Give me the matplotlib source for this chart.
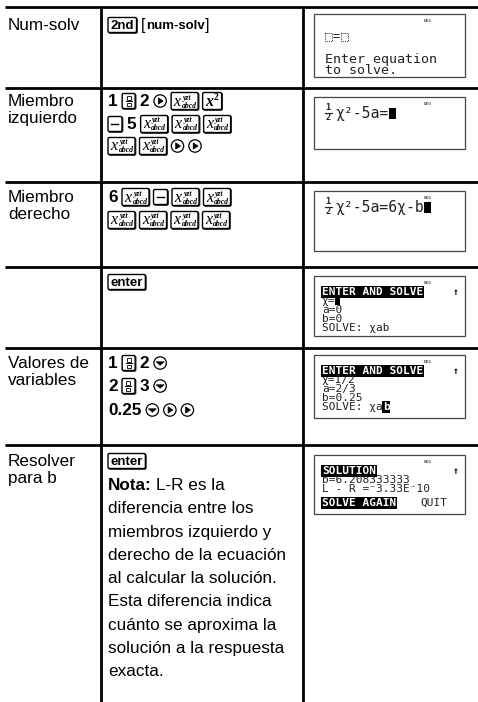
import matplotlib.pyplot as plt
from matplotlib.patches import Rectangle, FancyBboxPatch, Circle, Polygon

W, H = 478, 702
SANS = 'Liberation Sans'
SERIF = 'Liberation Serif'
MONO = 'DejaVu Sans Mono'
FS = 12.3

# ---- table content ----
row_labels = [['Num-solv'], ['Miembro', 'izquierdo'], ['Miembro', 'derecho'], [],
              ['Valores de', 'variables'], ['Resolver', 'para b']]
row_tops = [7, 88, 182, 267, 348, 445]

# key sequences, one list per printed line
key_lines = [
    [[('key', '2nd'), ('brk', 'num-solv')]],
    [[('n', '1'), ('frac',), ('n', '2'), ('right',), ('var',), ('sq',)],
     [('minus',), ('n', '5'), ('var',), ('var',), ('var',)],
     [('var',), ('var',), ('right',), ('right',)]],
    [[('n', '6'), ('var',), ('minus',), ('var',), ('var',)],
     [('var',), ('var',), ('var',), ('var',)]],
    [[('key', 'enter')]],
    [[('n', '1'), ('frac',), ('n', '2'), ('down',)],
     [('n', '2'), ('frac',), ('n', '3'), ('down',)],
     [('n', '0.25'), ('down',), ('right',), ('right',)]],
    [[('key', 'enter')]],
]
key_line_y = [[25], [101, 124, 146], [197, 220], [282], [363, 386, 410], [461]]
label_base = [[30], [106, 123], [202, 219], [], [368, 385], [466, 483]]

nota_head = 'Nota:'
nota_lines = ['L-R es la', 'diferencia entre los', 'miembros izquierdo y',
              'derecho de la ecuación', 'al calcular la solución.',
              'Esta diferencia indica', 'cuánto se aproxima la',
              'solución a la respuesta', 'exacta.']

# calculator screens
screen_rows = [(14, 77), (97, 149), (191, 251), (276, 336), (355, 418), (455, 514)]
scr1_lines = ['Enter equation', 'to solve.']
scr2_expr = 'χ²-5a='
scr3_expr = 'χ²-5a=6χ-b'
scr4_lines = ['ENTER AND SOLVE', 'χ=', 'a=0', 'b=0', 'SOLVE: χab']
scr5_lines = ['ENTER AND SOLVE', 'χ=1/2', 'a=2/3', 'b=0.25', 'SOLVE: χa']
scr6_lines = ['SOLUTION', 'b=6.208333333', 'L - R =⁻3.33E⁻10']
scr6_menu = ['SOLVE AGAIN', 'QUIT']

fig = plt.figure(figsize=(W / 100, H / 100), dpi=100)
ax = fig.add_axes([0, 0, 1, 1])
ax.set_xlim(0, W)
ax.set_ylim(H, 0)
ax.axis('off')
renderer = fig.canvas.get_renderer()


def width(t):
    return t.get_window_extent(renderer).width


def key_box(x, yc, w, h):
    # small shadow on the right/bottom like the printed key caps
    ax.add_patch(FancyBboxPatch((x + 0.7, yc - h / 2 + 0.7), w, h,
                                boxstyle='round,pad=0,rounding_size=1.5',
                                lw=1.0, ec='#333333', fc='#333333'))
    ax.add_patch(FancyBboxPatch((x, yc - h / 2), w, h,
                                boxstyle='round,pad=0,rounding_size=1.5',
                                lw=1.0, ec='black', fc='white'))


def draw_token(tok, x, yc):
    kind = tok[0]
    if kind == 'n':
        t = ax.text(x, yc + 5, tok[1], family=SANS, weight='bold', size=FS, va='baseline')
        return width(t)
    if kind == 'key':
        t = ax.text(x + 2.5, yc + 4, tok[1], family=SANS, weight='bold', size=9.5,
                    va='baseline', zorder=5)
        w = width(t) + 5
        key_box(x, yc, w, 15)
        return w
    if kind == 'brk':
        t1 = ax.text(x, yc + 5, '[', family=SANS, size=11.5, va='baseline')
        w1 = width(t1)
        t2 = ax.text(x + w1 + 0.5, yc + 4, tok[1], family=SANS, weight='bold', size=9.5, va='baseline')
        w2 = width(t2)
        t3 = ax.text(x + w1 + w2 + 1, yc + 5, ']', family=SANS, size=11.5, va='baseline')
        return w1 + w2 + 1 + width(t3)
    if kind == 'var':
        key_box(x, yc, 27, 17)
        ax.text(x + 2.5, yc + 4.5, 'x', family=SERIF, style='italic', size=11.5, va='baseline')
        ax.text(x + 11.5, yc - 1.5, 'yzt', family=SERIF, style='italic', weight='bold', size=5.5, va='baseline')
        ax.text(x + 10.5, yc + 6.5, 'abcd', family=SERIF, style='italic', weight='bold', size=5.5, va='baseline')
        return 27
    if kind == 'sq':
        key_box(x, yc, 19, 17)
        ax.text(x + 3, yc + 4.5, 'x', family=SERIF, style='italic', weight='bold', size=11.5, va='baseline')
        ax.text(x + 11.5, yc - 0.5, '2', family=SERIF, weight='bold', size=7, va='baseline')
        return 19
    if kind == 'frac':
        key_box(x, yc, 13, 15)
        ax.add_patch(Rectangle((x + 4.5, yc - 5), 4, 3.5, fill=False, lw=0.6, ec='black'))
        ax.add_patch(Rectangle((x + 4.5, yc + 1.5), 4, 3.5, fill=False, lw=0.6, ec='black'))
        ax.plot([x + 3.5, x + 9.5], [yc, yc], color='black', lw=0.7)
        return 13
    if kind == 'minus':
        key_box(x, yc, 14, 15)
        ax.plot([x + 3.5, x + 10.5], [yc, yc], color='black', lw=1.0)
        return 14
    if kind in ('right', 'down'):
        cx = x + 6.5
        ax.add_patch(Circle((cx, yc), 6.2, fill=False, lw=0.9, ec='black'))
        if kind == 'right':
            pts = [(cx - 1.8, yc - 3.2), (cx - 1.8, yc + 3.2), (cx + 3, yc)]
        else:
            pts = [(cx - 4, yc - 1.2), (cx + 4, yc - 1.2), (cx, yc + 2.2)]
        ax.add_patch(Polygon(pts, closed=True, fc='black', ec='black', lw=0.5))
        return 13
    return 0


# ---- grid lines ----
for y in row_tops:
    ax.plot([5, W], [y, y], color='black', lw=2.0, solid_capstyle='butt')
for x in (101, 303):
    ax.plot([x, x], [7, H], color='black', lw=2.0, solid_capstyle='butt')

# ---- first column ----
for labels, bases in zip(row_labels, label_base):
    for s, b in zip(labels, bases):
        ax.text(8, b, s, family=SANS, size=FS, va='baseline')

# ---- key sequences ----
for lines, ys in zip(key_lines, key_line_y):
    for toks, yc in zip(lines, ys):
        x = 108
        for tok in toks:
            x += draw_token(tok, x, yc) + 4.5

# ---- note paragraph ----
nb = 490
t = ax.text(108, nb, nota_head, family=SANS, weight='bold', size=FS, va='baseline')
ax.text(108 + width(t) + 4, nb, nota_lines[0], family=SANS, size=FS, va='baseline')
for i, s in enumerate(nota_lines[1:], start=1):
    ax.text(108, nb + 23.3 * i, s, family=SANS, size=FS, va='baseline')

# ---- screens ----
SX0, SX1 = 314, 465
for y0, y1 in screen_rows:
    ax.add_patch(Rectangle((SX0, y0), SX1 - SX0, y1 - y0, fill=False, lw=0.9, ec='#444444'))
    ax.text(424, y0 + 8, 'DEG', family=MONO, size=3.2, weight='bold', color='#555555', va='baseline')


def stext(x, y, s, size=8.0, inv=False, color='#222222'):
    if inv:
        return ax.text(x, y, s, family=MONO, size=size, weight='bold', color='white', va='baseline',
                       bbox=dict(boxstyle='square,pad=0.08', fc='black', ec='none'))
    return ax.text(x, y, s, family=MONO, size=size, color=color, va='baseline')


def half(x, y):
    ax.text(x + 1.5, y - 7.5, '1', family=MONO, size=6.2, weight='bold', color='#222222', va='baseline')
    ax.plot([x + 1, x + 8], [y - 5.5, y - 5.5], color='#222222', lw=0.8)
    ax.text(x + 1.5, y + 1.5, '2', family=MONO, size=6.2, weight='bold', color='#222222', va='baseline')


# screen 1
y0 = screen_rows[0][0]
for dx in (325, 341):
    ax.add_patch(Rectangle((dx, y0 + 19), 7, 8, fill=False, lw=0.7, ls=(0, (1, 1)), ec='#333333'))
stext(333, y0 + 26.5, '=', size=8.5)
stext(325, y0 + 48.5, scr1_lines[0], size=9.6)
stext(325, y0 + 60.5, scr1_lines[1], size=9.6)

# screens 2 and 3
for (y0, y1), expr in zip(screen_rows[1:3], [scr2_expr, scr3_expr]):
    base = y0 + 21
    half(324, base)
    t = stext(335, base, expr, size=10.6)
    ax.add_patch(Rectangle((335 + width(t) + 0.5, base - 10.5), 7, 11.5, fc='black', ec='none'))

# screens 4 and 5
LS = 9.0
for (y0, y1), lines in zip(screen_rows[3:5], [scr4_lines, scr5_lines]):
    stext(322, y0 + 19, lines[0], inv=True)
    ax.text(453, y0 + 19, '↑', family=MONO, size=7, weight='bold', va='baseline')
    for i, s in enumerate(lines[1:], start=1):
        t = stext(322, y0 + 19 + LS * i, s)
    if lines is scr4_lines:
        ax.add_patch(Rectangle((335.5, y0 + 19 + LS - 7.5), 5, 8, fc='black', ec='none'))
    else:
        xe = 322 + width(t)
        stext(xe, y0 + 19 + LS * 4, 'b', inv=True)

# screen 6
y0 = screen_rows[5][0]
stext(322, y0 + 19, scr6_lines[0], inv=True)
ax.text(453, y0 + 19, '↑', family=MONO, size=7, weight='bold', va='baseline')
stext(322, y0 + 19 + LS, scr6_lines[1])
stext(322, y0 + 19 + 2 * LS, scr6_lines[2])
stext(322, y0 + 51, scr6_menu[0], inv=True)
stext(420, y0 + 51, scr6_menu[1])

fig.savefig('out.png', dpi=100)
